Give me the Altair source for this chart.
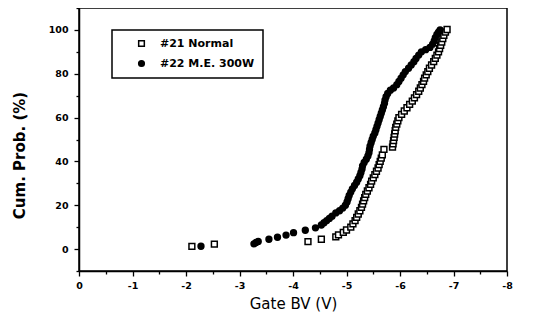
import altair as alt
import pandas as pd

series_names = ["#21 Normal", "#22 M.E. 300W"]

normal_x = [-2.11, -2.53, -4.28, -4.53, -4.80, -4.85, -4.94, -5.00, -5.08, -5.12,
            -5.16, -5.19, -5.22, -5.25, -5.28, -5.30, -5.32, -5.34, -5.36, -5.39,
            -5.42, -5.45, -5.47, -5.50, -5.53, -5.56, -5.59, -5.61, -5.63, -5.65,
            -5.67, -5.70, -5.86, -5.87, -5.88, -5.89, -5.90, -5.91, -5.92, -5.94,
            -5.96, -5.98, -6.03, -6.08, -6.13, -6.18, -6.23, -6.27, -6.31, -6.35,
            -6.38, -6.41, -6.44, -6.46, -6.49, -6.52, -6.55, -6.59, -6.63, -6.66,
            -6.69, -6.72, -6.74, -6.76, -6.78, -6.80, -6.82, -6.85, -6.88]
normal_y = [1.2, 2.3, 3.4, 4.5, 5.6, 6.5, 7.6, 8.7, 10.0, 11.5,
            13.0, 14.5, 16.0, 17.5, 19.0, 20.5, 22.0, 23.5, 25.0, 26.5,
            28.0, 29.5, 31.0, 32.5, 34.0, 35.5, 37.0, 38.5, 40.0, 41.5,
            43.0, 45.5, 46.5, 48.0, 49.5, 51.0, 52.5, 54.0, 55.5, 57.0,
            58.5, 60.0, 61.5, 63.0, 64.5, 66.0, 67.5, 69.0, 70.5, 72.0,
            73.5, 75.0, 76.5, 78.0, 79.5, 81.0, 82.5, 84.0, 85.5, 87.0,
            88.5, 90.0, 91.5, 93.0, 94.5, 96.0, 97.5, 99.0, 100.2]

me_x = [-2.28, -3.27, -3.31, -3.35, -3.55, -3.71, -3.87, -4.01, -4.23, -4.42,
        -4.53, -4.58, -4.63, -4.68, -4.73, -4.80, -4.87, -4.93, -4.98, -5.01,
        -5.03, -5.05, -5.08, -5.11, -5.15, -5.19, -5.22, -5.25, -5.27, -5.29,
        -5.30, -5.33, -5.37, -5.40, -5.42, -5.43, -5.44, -5.46, -5.48, -5.50,
        -5.53, -5.55, -5.57, -5.59, -5.61, -5.63, -5.65, -5.67, -5.69, -5.71,
        -5.72, -5.74, -5.77, -5.82, -5.88, -5.94, -5.98, -6.02, -6.06, -6.10,
        -6.16, -6.21, -6.26, -6.30, -6.35, -6.40, -6.48, -6.56, -6.61, -6.64,
        -6.66, -6.69, -6.72, -6.75]
me_y = [1.3, 2.4, 3.0, 3.5, 4.5, 5.4, 6.4, 7.5, 8.6, 9.7,
        11.0, 12.0, 13.0, 14.0, 15.0, 16.5, 17.5, 18.7, 20.0, 21.5,
        23.0, 24.5, 26.0, 27.5, 29.0, 30.5, 32.0, 33.5, 35.0, 36.5,
        38.0, 39.5, 41.0, 42.5, 44.0, 45.5, 47.0, 48.5, 50.0, 51.5,
        53.0, 54.5, 56.0, 57.5, 59.0, 60.5, 62.0, 63.5, 65.0, 66.5,
        68.0, 69.5, 71.0, 72.5, 73.5, 75.0, 76.5, 78.0, 79.5, 81.0,
        82.5, 84.0, 85.5, 87.0, 88.5, 90.0, 91.0, 92.0, 93.5, 95.0,
        96.5, 98.0, 99.0, 100.0]

x_ticks = [-i * 0.5 for i in range(17)]
y_ticks = [-10 + 10 * i for i in range(13)]

df = pd.concat([
    pd.DataFrame({"bv": normal_x, "prob": normal_y, "series": series_names[0]}),
    pd.DataFrame({"bv": me_x, "prob": me_y, "series": series_names[1]}),
])

legend = alt.Legend(
    title=None, orient="none", legendX=33, legendY=22,
    direction="vertical", padding=8, rowPadding=7,
    strokeColor="black", fillColor="white",
    symbolOffset=16, labelOffset=13, symbolSize=32,
    symbolStrokeColor="black", symbolStrokeWidth=1.5, symbolOpacity=1,
    labelFont="DejaVu Sans", labelFontWeight="bold", labelFontSize=11,
    labelColor="black",
)

chart = alt.Chart(df).mark_point(
    filled=True, stroke="black", strokeWidth=1.5, size=34, opacity=1
).encode(
    x=alt.X("bv:Q", title="Gate BV (V)",
            scale=alt.Scale(domain=[-8, 0], reverse=True, nice=False, zero=False),
            axis=alt.Axis(
                values=x_ticks, grid=False,
                labelExpr="datum.value % 1 === 0 ? (datum.value === 0 ? '0' : '-' + abs(datum.value)) : ''",
                tickSize={"condition": {"test": "datum.value % 1 === 0", "value": 5}, "value": 3},
                tickColor="black", tickWidth=1.3, domainColor="black", domainWidth=1.5,
                labelFont="DejaVu Sans", labelFontWeight="bold", labelFontSize=9.5,
                labelColor="black", labelPadding=4, labelFlush=False,
                titleFont="DejaVu Sans", titleFontWeight="normal", titleFontSize=15,
                titleColor="black", titlePadding=7,
            )),
    y=alt.Y("prob:Q", title="Cum. Prob. (%)",
            scale=alt.Scale(domain=[-10, 110], nice=False, zero=False),
            axis=alt.Axis(
                values=y_ticks, grid=False,
                labelExpr="datum.value % 20 === 0 && datum.value >= 0 && datum.value <= 100 ? datum.label : ''",
                tickSize={"condition": {"test": "datum.value % 20 === 0", "value": 5}, "value": 3},
                tickColor="black", tickWidth=1.3, domainColor="black", domainWidth=1.5,
                labelFont="DejaVu Sans", labelFontWeight="bold", labelFontSize=9.5,
                labelColor="black", labelPadding=6, labelFlush=False,
                titleFont="DejaVu Sans", titleFontWeight="bold", titleFontSize=15,
                titleColor="black", titlePadding=21, titleY=147,
            )),
    shape=alt.Shape("series:N", scale=alt.Scale(domain=series_names, range=["square", "circle"]), legend=legend),
    fill=alt.Fill("series:N", scale=alt.Scale(domain=series_names, range=["white", "black"]), legend=legend),
    stroke=alt.Stroke("series:N", scale=alt.Scale(domain=series_names, range=["black", "black"]), legend=legend),
).properties(
    width=428, height=263,
    autosize=alt.AutoSizeParams(type="none"),
    padding={"left": 71, "top": 0, "right": 32, "bottom": 41},
    background="white",
).configure_view(
    stroke="black", strokeWidth=1.5
).configure_legend(
    strokeWidth=1.5, cornerRadius=0
)

chart.save("out.html", embed_options={"renderer": "svg", "actions": False})
